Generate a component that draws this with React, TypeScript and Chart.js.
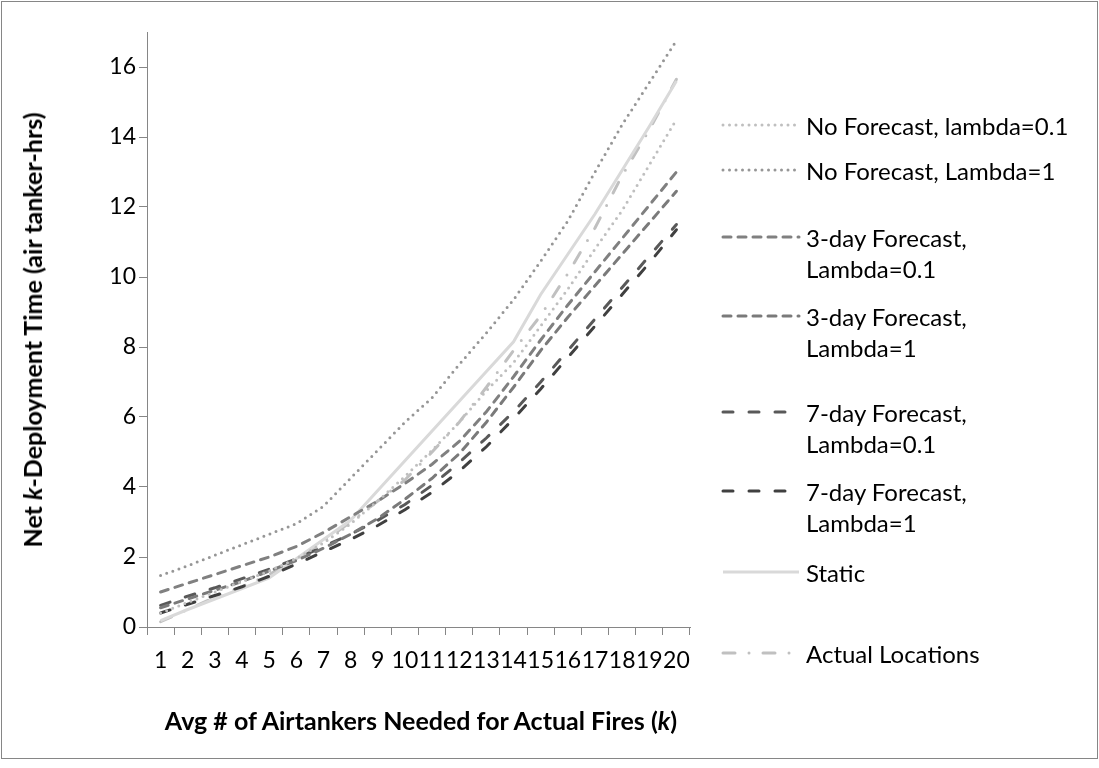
import { useEffect, useRef } from 'react';
import { Chart, registerables } from 'chart.js';

Chart.register(...registerables);

// Average number of airtankers needed for actual fires (k)
const kLabels = ['1', '2', '3', '4', '5', '6', '7', '8', '9', '10', '11', '12', '13', '14', '15', '16', '17', '18', '19', '20'];

// Net k-deployment time (air tanker-hrs) per deployment strategy
const noForecastL01 = [0.40, 0.70, 1.00, 1.30, 1.60, 1.95, 2.40, 2.95, 3.60, 4.30, 5.05, 5.85, 6.75, 7.55, 8.60, 9.65, 10.80, 11.90, 13.20, 14.50];
const noForecastL1 = [1.47, 1.75, 2.05, 2.35, 2.65, 2.95, 3.45, 4.25, 5.05, 5.85, 6.55, 7.50, 8.40, 9.35, 10.45, 11.60, 13.00, 14.35, 15.55, 16.75];
const threeDayL01 = [1.00, 1.25, 1.50, 1.75, 2.00, 2.30, 2.70, 3.15, 3.60, 4.10, 4.65, 5.30, 6.15, 7.15, 8.20, 9.20, 10.15, 11.10, 12.05, 13.00];
const threeDayL1 = [0.55, 0.80, 1.05, 1.30, 1.60, 1.90, 2.25, 2.65, 3.10, 3.65, 4.25, 4.95, 5.85, 6.85, 7.90, 8.85, 9.75, 10.65, 11.55, 12.45];
const sevenDayL01 = [0.62, 0.88, 1.12, 1.38, 1.65, 1.95, 2.30, 2.65, 3.05, 3.50, 4.05, 4.70, 5.40, 6.15, 7.00, 7.90, 8.80, 9.70, 10.60, 11.50];
const sevenDayL1 = [0.40, 0.65, 0.90, 1.15, 1.45, 1.80, 2.15, 2.50, 2.90, 3.35, 3.85, 4.45, 5.15, 5.95, 6.80, 7.70, 8.60, 9.50, 10.40, 11.35];
const staticLocations = [0.18, 0.50, 0.80, 1.10, 1.40, 1.95, 2.50, 3.05, 3.90, 4.75, 5.60, 6.45, 7.30, 8.15, 9.50, 10.65, 11.80, 13.05, 14.30, 15.60];
const actualLocations = [0.15, 0.50, 0.85, 1.15, 1.50, 1.95, 2.45, 3.00, 3.60, 4.20, 5.00, 5.85, 6.85, 7.90, 8.90, 10.10, 11.40, 12.90, 14.20, 15.65];

// Y axis tick values
const yTicks = [0, 2, 4, 6, 8, 10, 12, 14, 16];

const FONT = 'Lato, "Open Sans", sans-serif';
const AXIS = '#868686';

type Series = {
  name: string[];
  data: number[];
  color: string;
  dash: number[];
  cap: CanvasLineCap;
  legendY: number;
};

const SERIES: Series[] = [
  { name: ['No Forecast, lambda=0.1'], data: noForecastL01, color: '#bfbfbf', dash: [0, 6.5], cap: 'round', legendY: 125 },
  { name: ['No Forecast, Lambda=1'], data: noForecastL1, color: '#969696', dash: [0, 6.5], cap: 'round', legendY: 170 },
  { name: ['3-day Forecast,', 'Lambda=0.1'], data: threeDayL01, color: '#808080', dash: [8, 7], cap: 'round', legendY: 237 },
  { name: ['3-day Forecast,', 'Lambda=1'], data: threeDayL1, color: '#7a7a7a', dash: [8, 7], cap: 'round', legendY: 316 },
  { name: ['7-day Forecast,', 'Lambda=0.1'], data: sevenDayL01, color: '#595959', dash: [10, 16], cap: 'round', legendY: 412 },
  { name: ['7-day Forecast,', 'Lambda=1'], data: sevenDayL1, color: '#404040', dash: [10, 16], cap: 'round', legendY: 491 },
  { name: ['Static'], data: staticLocations, color: '#d9d9d9', dash: [], cap: 'butt', legendY: 572 },
  { name: ['Actual Locations'], data: actualLocations, color: '#c0c0c0', dash: [12, 14, 0, 14], cap: 'round', legendY: 653 },
];

function LegendSample({ s }: { s: Series }) {
  return (
    <svg width={80} height={12} style={{ position: 'absolute', left: 721, top: s.legendY - 6 }}>
      <line
        x1={2}
        y1={6}
        x2={78}
        y2={6}
        stroke={s.color}
        strokeWidth={3}
        strokeLinecap={s.cap}
        strokeDasharray={s.dash.length ? s.dash.join(' ') : undefined}
      />
    </svg>
  );
}

export default function App() {
  const canvasRef = useRef<HTMLCanvasElement>(null);

  useEffect(() => {
    const chart = new Chart(canvasRef.current!, {
      type: 'line',
      data: {
        labels: kLabels,
        datasets: SERIES.map((s) => ({
          label: s.name.join(' '),
          data: s.data,
          borderColor: s.color,
          backgroundColor: s.color,
          borderWidth: 3,
          borderDash: s.dash,
          borderCapStyle: s.cap,
          pointRadius: 0,
          fill: false,
          tension: 0,
        })),
      },
      options: {
        responsive: false,
        animation: false,
        layout: { padding: { left: 0, top: 32, right: 409, bottom: 0 } },
        plugins: { legend: { display: false }, tooltip: { enabled: false } },
        scales: {
          x: {
            type: 'category',
            offset: true,
            grid: { display: true, drawOnChartArea: false, drawTicks: true, tickLength: 8, color: AXIS, offset: true },
            border: { display: true, color: AXIS, width: 1 },
            ticks: { autoSkip: false, maxRotation: 0, minRotation: 0, padding: 12, color: '#000', font: { family: FONT, size: 23 } },
            afterFit: (s: any) => {
              s.height = 141;
            },
          },
          y: {
            min: 0,
            max: 17,
            grid: { display: true, drawOnChartArea: false, drawTicks: true, tickLength: 8, color: AXIS },
            border: { display: true, color: AXIS, width: 1 },
            ticks: { stepSize: 2, padding: 3, color: '#000', font: { family: FONT, size: 23 } },
            afterBuildTicks: (s: any) => {
              s.ticks = yTicks.map((v) => ({ value: v }));
            },
            afterFit: (s: any) => {
              s.width = 147;
            },
          },
        },
      },
    });
    return () => chart.destroy();
  }, []);

  return (
    <div style={{ position: 'absolute', left: 0, top: 0, width: 1099, height: 768, background: '#fff', fontFamily: FONT, color: '#000' }}>
      <div style={{ position: 'absolute', left: 1, top: 1, width: 1095, height: 756, border: `1px solid ${AXIS}` }} />
      <canvas ref={canvasRef} width={1099} height={768} style={{ position: 'absolute', left: 0, top: 0, width: 1099, height: 768 }} />
      <div
        style={{
          position: 'absolute',
          left: 32,
          top: 330,
          transform: 'translate(-50%, -50%) rotate(-90deg)',
          whiteSpace: 'nowrap',
          fontWeight: 700,
          fontSize: 25,
        }}
      >
        Net <i>k</i>-Deployment Time (air tanker-hrs)
      </div>
      <div
        style={{
          position: 'absolute',
          left: 421,
          top: 720,
          transform: 'translate(-50%, -50%)',
          whiteSpace: 'nowrap',
          fontWeight: 700,
          fontSize: 25,
        }}
      >
        Avg # of Airtankers Needed for Actual Fires (<i>k</i>)
      </div>
      {SERIES.map((s, i) => (
        <div key={i}>
          <LegendSample s={s} />
          <div style={{ position: 'absolute', left: 806, top: s.legendY - 15.5, fontSize: 24, lineHeight: '31px', whiteSpace: 'nowrap' }}>
            {s.name.map((line, j) => (
              <div key={j}>{line}</div>
            ))}
          </div>
        </div>
      ))}
    </div>
  );
}
